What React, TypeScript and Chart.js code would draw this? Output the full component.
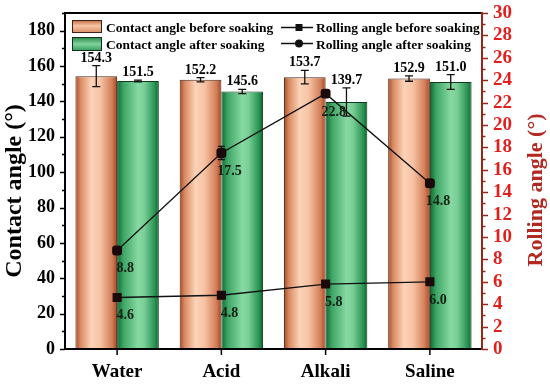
import React, { useEffect, useRef } from 'react';
import { Chart, registerables } from 'chart.js';

Chart.register(...registerables);

// ---- data ----
const categories = ['Water', 'Acid', 'Alkali', 'Saline'];
const contactBefore = [154.3, 152.2, 153.7, 152.9];
const contactBeforeErr = [5.9, 1.2, 3.8, 1.5];
const contactAfter = [151.5, 145.6, 139.7, 151.0];
const contactAfterErr = [0.5, 1.2, 8.0, 4.2];
const rollingBefore = [4.6, 4.8, 5.8, 6.0];
const rollingAfter = [8.8, 17.5, 22.8, 14.8];
const rollingAfterErr = [0, 0.6, 0, 0];
const seriesNames = [
  'Contact angle before soaking',
  'Contact angle after soaking',
  'Rolling angle before soaking',
  'Rolling angle after soaking',
];
const leftTitle = 'Contact angle (°)';
const rightTitle = 'Rolling angle (°)';

const FONT = '"Liberation Serif", "Times New Roman", serif';
const RED = '#e0201c';
const DARKRED = '#b02a22';
const AXISRED = '#952818';
const POINT = '#1c0a0a';

const orangeStops: [number, string][] = [
  [0, '#a9491f'], [0.12, '#d98a62'], [0.38, '#fcd3b8'], [0.6, '#f6c2a2'], [0.88, '#d27e58'], [1, '#a8461e'],
];
const greenStops: [number, string][] = [
  [0, '#0b6a2e'], [0.15, '#3ea565'], [0.5, '#86d9a2'], [0.65, '#7acf97'], [0.9, '#2a9454'], [1, '#0a642b'],
];

function hGrad(ctx: CanvasRenderingContext2D, left: number, width: number, stops: [number, string][]) {
  const g = ctx.createLinearGradient(left, 0, left + width, 0);
  stops.forEach(([o, c]) => g.addColorStop(o, c));
  return g;
}
function vGrad(ctx: CanvasRenderingContext2D, top: number, height: number, stops: [number, string][]) {
  const g = ctx.createLinearGradient(0, top, 0, top + height);
  stops.forEach(([o, c]) => g.addColorStop(o, c));
  return g;
}

function barBg(dsIndex: number, stops: [number, string][], fallback: string) {
  return (c: any) => {
    const chart = c.chart;
    const xs = chart.scales && chart.scales.x;
    if (!chart.chartArea || !xs || c.type !== 'data') return fallback;
    const center = xs.getPixelForValue(c.dataIndex);
    const catW = xs.width / categories.length;
    const w = (catW * 0.8) / 2;
    const left = dsIndex === 0 ? center - w : center;
    return hGrad(chart.ctx, left, w, stops);
  };
}

function errBar(ctx: CanvasRenderingContext2D, x: number, t: number, b: number, hw: number) {
  ctx.beginPath();
  ctx.moveTo(x, t); ctx.lineTo(x, b);
  ctx.moveTo(x - hw, t); ctx.lineTo(x + hw, t);
  ctx.moveTo(x - hw, b); ctx.lineTo(x + hw, b);
  ctx.stroke();
}

const decor = {
  id: 'decor',
  afterDatasetDraw(chart: any, args: any) {
    const i = args.index;
    if (i > 1) return;
    const ctx: CanvasRenderingContext2D = chart.ctx;
    const ys = chart.scales.y;
    const vals = i === 0 ? contactBefore : contactAfter;
    const errs = i === 0 ? contactBeforeErr : contactAfterErr;
    const meta = chart.getDatasetMeta(i);
    ctx.save();
    ctx.strokeStyle = '#111';
    ctx.lineWidth = 1.3;
    meta.data.forEach((el: any, j: number) => {
      errBar(ctx, el.x, ys.getPixelForValue(vals[j] + errs[j]), ys.getPixelForValue(vals[j] - errs[j]), 4);
    });
    ctx.restore();
  },
  afterDatasetsDraw(chart: any) {
    const ctx: CanvasRenderingContext2D = chart.ctx;
    const ys = chart.scales.y;
    const y2 = chart.scales.y2;
    ctx.save();
    // rolling error bars
    ctx.strokeStyle = '#111';
    ctx.lineWidth = 1.3;
    chart.getDatasetMeta(3).data.forEach((el: any, j: number) => {
      if (rollingAfterErr[j] > 0) {
        errBar(ctx, el.x, y2.getPixelForValue(rollingAfter[j] + rollingAfterErr[j]), y2.getPixelForValue(rollingAfter[j] - rollingAfterErr[j]), 3.5);
      }
    });
    // bar labels
    ctx.font = `bold 14px ${FONT}`;
    ctx.fillStyle = '#000';
    ctx.textAlign = 'center';
    ctx.textBaseline = 'alphabetic';
    [0, 1].forEach((i) => {
      const vals = i === 0 ? contactBefore : contactAfter;
      const errs = i === 0 ? contactBeforeErr : contactAfterErr;
      chart.getDatasetMeta(i).data.forEach((el: any, j: number) => {
        const top = Math.min(el.y, ys.getPixelForValue(vals[j] + errs[j]));
        ctx.fillText(vals[j].toFixed(1), el.x, top - 4);
      });
    });
    // rolling labels
    ctx.fillStyle = '#142014';
    [2, 3].forEach((i) => {
      const vals = i === 2 ? rollingBefore : rollingAfter;
      chart.getDatasetMeta(i).data.forEach((el: any, j: number) => {
        ctx.fillText(vals[j].toFixed(1), el.x + 8, el.y + 22);
      });
    });
    ctx.restore();
  },
  afterDraw(chart: any) {
    const ctx: CanvasRenderingContext2D = chart.ctx;
    const { left, right, top, bottom } = chart.chartArea;
    const ys = chart.scales.y;
    const y2 = chart.scales.y2;
    const xs = chart.scales.x;
    ctx.save();
    // axis lines
    ctx.lineWidth = 2;
    ctx.strokeStyle = '#000';
    ctx.beginPath();
    ctx.moveTo(left, bottom + 1); ctx.lineTo(left, top);
    ctx.lineTo(right, top);
    ctx.moveTo(left, bottom); ctx.lineTo(right, bottom);
    ctx.stroke();
    ctx.strokeStyle = AXISRED;
    ctx.beginPath();
    ctx.moveTo(right, top - 1); ctx.lineTo(right, bottom + 1);
    ctx.stroke();
    // left ticks
    ctx.lineWidth = 1.5;
    ctx.strokeStyle = '#000';
    ctx.beginPath();
    for (let v = 0; v <= 190; v += 10) {
      const y = Math.round(ys.getPixelForValue(v)) + 0.5;
      const len = v % 20 === 0 ? 5 : 3;
      ctx.moveTo(left - len, y); ctx.lineTo(left, y);
    }
    categories.forEach((_, k) => {
      const x = xs.getPixelForValue(k);
      ctx.moveTo(x, bottom); ctx.lineTo(x, bottom + 6);
    });
    ctx.stroke();
    // right ticks
    ctx.strokeStyle = AXISRED;
    ctx.beginPath();
    for (let v = 0; v <= 30; v += 1) {
      const y = Math.round(y2.getPixelForValue(v)) + 0.5;
      const len = v % 2 === 0 ? 6 : 3.5;
      ctx.moveTo(right, y); ctx.lineTo(right + len, y);
    }
    ctx.stroke();
    // axis titles
    ctx.textAlign = 'center';
    ctx.textBaseline = 'middle';
    ctx.fillStyle = '#000';
    ctx.font = `bold 24px ${FONT}`;
    ctx.save();
    ctx.translate(15, 191);
    ctx.rotate(-Math.PI / 2);
    ctx.fillText(leftTitle, 0, 0);
    ctx.restore();
    ctx.fillStyle = DARKRED;
    ctx.font = `bold 22px ${FONT}`;
    ctx.save();
    ctx.translate(536, 190);
    ctx.rotate(-Math.PI / 2);
    ctx.fillText(rightTitle, 0, 0);
    ctx.restore();
    // legend
    ctx.lineWidth = 1;
    ctx.strokeStyle = '#3a2418';
    ctx.fillStyle = vGrad(ctx, 20, 13, [[0, '#c0653c'], [0.45, '#f8c6a6'], [1, '#d88a62']]);
    ctx.fillRect(72, 20, 30, 13);
    ctx.strokeRect(72.5, 20.5, 29, 12);
    ctx.fillStyle = vGrad(ctx, 37, 14, [[0, '#1f8442'], [0.5, '#82d49e'], [1, '#2f9a58']]);
    ctx.fillRect(72, 37, 30, 14);
    ctx.strokeStyle = '#14301c';
    ctx.strokeRect(72.5, 37.5, 29, 13);
    ctx.font = `bold 13.5px ${FONT}`;
    ctx.fillStyle = '#000';
    ctx.textAlign = 'left';
    ctx.textBaseline = 'alphabetic';
    ctx.fillText(seriesNames[0], 106, 31.5);
    ctx.fillText(seriesNames[1], 106, 48.5);
    ctx.fillText(seriesNames[2], 316, 31.5);
    ctx.fillText(seriesNames[3], 316, 48.5);
    ctx.strokeStyle = '#111';
    ctx.lineWidth = 1.3;
    ctx.beginPath();
    ctx.moveTo(281, 27.5); ctx.lineTo(313, 27.5);
    ctx.moveTo(281, 43.5); ctx.lineTo(313, 43.5);
    ctx.stroke();
    ctx.fillStyle = '#111';
    ctx.fillRect(295.5, 24, 7, 7);
    ctx.beginPath();
    ctx.arc(299, 43.5, 4, 0, Math.PI * 2);
    ctx.fill();
    ctx.restore();
  },
};

function fixV(width: number) {
  return (s: any) => { s.width = width; s.paddingTop = 0; s.paddingBottom = 0; };
}

export default function App() {
  const ref = useRef<HTMLCanvasElement>(null);
  useEffect(() => {
    document.body.style.margin = '0';
    const canvas = ref.current!;
    const chart = new Chart(canvas, {
      type: 'bar',
      data: {
        labels: categories,
        datasets: [
          {
            type: 'bar',
            label: seriesNames[0],
            data: contactBefore,
            yAxisID: 'y',
            backgroundColor: barBg(0, orangeStops, '#f0b090'),
            borderColor: '#4a2616',
            borderWidth: 1,
            categoryPercentage: 0.8,
            barPercentage: 1.0,
            order: 2,
          },
          {
            type: 'bar',
            label: seriesNames[1],
            data: contactAfter,
            yAxisID: 'y',
            backgroundColor: barBg(1, greenStops, '#60c080'),
            borderColor: '#123a1e',
            borderWidth: 1,
            categoryPercentage: 0.8,
            barPercentage: 1.0,
            order: 2,
          },
          {
            type: 'line',
            label: seriesNames[2],
            data: rollingBefore,
            yAxisID: 'y2',
            borderColor: '#111',
            borderWidth: 1.3,
            pointStyle: 'rect',
            pointRadius: 5.5,
            pointBackgroundColor: POINT,
            pointBorderColor: POINT,
            tension: 0,
            order: 1,
          },
          {
            type: 'line',
            label: seriesNames[3],
            data: rollingAfter,
            yAxisID: 'y2',
            borderColor: '#111',
            borderWidth: 1.3,
            pointStyle: 'rectRounded',
            pointRadius: 5,
            pointBackgroundColor: POINT,
            pointBorderColor: POINT,
            tension: 0,
            order: 1,
          },
        ] as any,
      },
      options: {
        responsive: false,
        animation: false,
        devicePixelRatio: 1,
        layout: { padding: { top: 13, left: 0, right: 0, bottom: 0 } },
        plugins: {
          legend: { display: false },
          tooltip: { enabled: false },
        },
        scales: {
          x: {
            type: 'category',
            grid: { display: false, drawTicks: false },
            border: { display: false },
            ticks: { autoSkip: false, font: { family: FONT, size: 19, weight: 'bold' }, color: '#000', padding: 12 },
            afterFit: (s: any) => { s.height = 36; s.paddingLeft = 0; s.paddingRight = 0; },
          },
          y: {
            type: 'linear',
            position: 'left',
            min: 0,
            max: 190,
            grid: { display: false, drawTicks: false },
            border: { display: false },
            ticks: { autoSkip: false, stepSize: 20, includeBounds: false, font: { family: FONT, size: 18, weight: 'bold' }, color: '#000', padding: 10 },
            afterFit: fixV(65),
          },
          y2: {
            type: 'linear',
            position: 'right',
            min: 0,
            max: 30,
            grid: { display: false, drawTicks: false },
            border: { display: false },
            ticks: { autoSkip: false, stepSize: 2, font: { family: FONT, size: 19, weight: 'bold' }, color: RED, padding: 11 },
            afterFit: fixV(68),
          },
        },
      } as any,
      plugins: [decor],
    });
    return () => chart.destroy();
  }, []);
  return (
    <div style={{ position: 'absolute', left: 0, top: 0, width: 550, height: 385, background: '#fff' }}>
      <canvas ref={ref} width={550} height={385} style={{ width: 550, height: 385, display: 'block' }} />
    </div>
  );
}
